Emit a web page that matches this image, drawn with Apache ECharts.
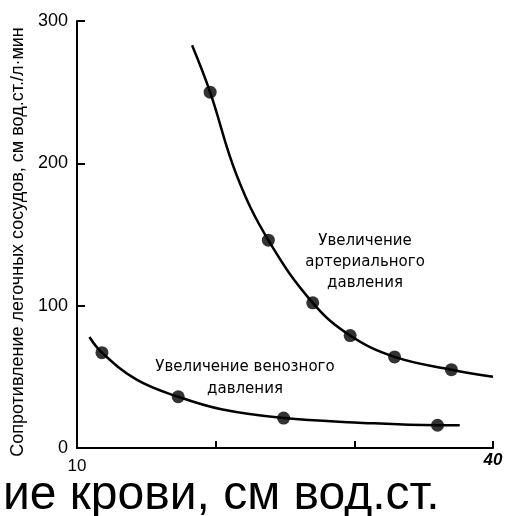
<!DOCTYPE html>
<html>
<head>
<meta charset="utf-8">
<script src="https://cdn.jsdelivr.net/npm/echarts@6/dist/echarts.min.js"></script>
<style>
  html, body { margin: 0; padding: 0; background: #fff; }
  #chart { width: 507px; height: 516px; }
</style>
</head>
<body>
<div id="chart"></div>
<script>
var arterialX = [19.6, 23.8, 27.0, 29.7, 32.9, 37.0];
var arterialY = [250, 146, 102, 79, 64, 55];
var venousX = [11.8, 17.3, 24.9, 36.0];
var venousY = [67, 36, 21, 16];

// fitted curves as drawn
var arterialCurveX = [18.3, 19.6, 21.5, 23.8, 27.0, 29.7, 32.9, 37.0, 40.0];
var arterialCurveY = [283, 250, 192, 146, 102, 79, 64, 55, 50];
var venousCurveX = [10.9, 11.8, 14.3, 17.3, 20.5, 24.9, 30.0, 36.0, 37.6];
var venousCurveY = [78, 67, 48, 36, 27, 21, 18, 16, 16];

var xTicks = [10, 20, 30, 40];
var yTicks = [0, 100, 200, 300];

function pairs(xs, ys) {
    var out = [];
    for (let i = 0; i < xs.length; i++) {
        out.push([xs[i], ys[i]]);
    }
    return out;
}

var chartDom = document.getElementById('chart');
var myChart = echarts.init(chartDom);
var option;

var font = 'Liberation Sans, Arial, sans-serif';

option = {
    animation: false,
    backgroundColor: '#fff',
    grid: {
        left: 77,
        right: 14,
        top: 21,
        bottom: 68
    },
    xAxis: {
        type: 'value',
        min: xTicks[0],
        max: xTicks[xTicks.length - 1],
        interval: 10,
        splitLine: { show: false },
        axisLine: { lineStyle: { color: '#000', width: 2 } },
        axisTick: { inside: true, length: 7, lineStyle: { color: '#000', width: 2 } },
        axisLabel: {
            color: '#000',
            fontFamily: font,
            fontSize: 17,
            margin: 10,
            formatter: function (v) {
                if (v === 10) return '{a|10}';
                if (v === 40) return '{b|40}';
                return '';
            },
            rich: {
                a: { fontSize: 17, fontFamily: font, color: '#000' },
                b: { fontSize: 17, fontFamily: font, color: '#000', fontStyle: 'italic', fontWeight: 'bold', padding: [-6, 0, 0, 0] }
            }
        }
    },
    yAxis: {
        type: 'value',
        min: yTicks[0],
        max: yTicks[yTicks.length - 1],
        interval: 100,
        splitLine: { show: false },
        axisLine: { lineStyle: { color: '#000', width: 2 } },
        axisTick: { inside: true, length: 8, lineStyle: { color: '#000', width: 2 } },
        axisLabel: { color: '#000', fontFamily: font, fontSize: 18, margin: 9 }
    },
    graphic: [
        {
            type: 'text',
            x: 18, y: 242,
            rotation: Math.PI / 2,
            style: {
                text: 'Сопротивление легочных сосудов, см вод.ст./л·мин',
                font: '18px ' + font,
                fill: '#000',
                align: 'center',
                verticalAlign: 'middle'
            }
        },
        {
            // x-axis title, cut off at the left edge in the original
            type: 'text',
            left: 3, top: 472,
            style: {
                text: 'ие крови, см вод.ст.',
                font: '48px ' + font,
                fill: '#000'
            }
        },
        {
            type: 'text',
            x: 365, y: 262,
            style: {
                text: 'Увеличение\nартериального\nдавления',
                font: '15px DejaVu Sans, sans-serif',
                lineHeight: 21,
                fill: '#000',
                align: 'center',
                verticalAlign: 'middle'
            }
        },
        {
            type: 'text',
            x: 245, y: 378,
            style: {
                text: 'Увеличение венозного\nдавления',
                font: '15px DejaVu Sans, sans-serif',
                lineHeight: 22,
                fill: '#000',
                align: 'center',
                verticalAlign: 'middle'
            }
        }
    ],
    series: [
        {
            name: 'arterial curve',
            type: 'line',
            data: pairs(arterialCurveX, arterialCurveY),
            smooth: 0.4,
            showSymbol: false,
            lineStyle: { color: '#000', width: 2.5 }
        },
        {
            name: 'venous curve',
            type: 'line',
            data: pairs(venousCurveX, venousCurveY),
            smooth: 0.4,
            showSymbol: false,
            lineStyle: { color: '#000', width: 2.5 }
        },
        {
            name: 'arterial',
            type: 'scatter',
            data: pairs(arterialX, arterialY),
            symbolSize: 13,
            itemStyle: { color: '#000' }
        },
        {
            name: 'venous',
            type: 'scatter',
            data: pairs(venousX, venousY),
            symbolSize: 13,
            itemStyle: { color: '#000' }
        }
    ]
};

option && myChart.setOption(option);
</script>
</body>
</html>
